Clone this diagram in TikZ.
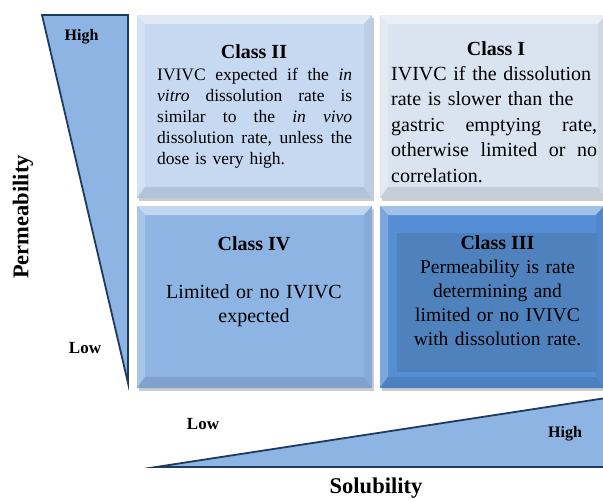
\documentclass[tikz,border=0pt]{standalone}
\usepackage{fontspec}
\setmainfont{Liberation Serif}
\definecolor{cII}{HTML}{C6D9F1}
\definecolor{cI}{HTML}{DAE4F0}
\definecolor{cIV}{HTML}{8EB4E3}
\definecolor{cIII}{HTML}{558ED5}
\definecolor{cIIIin}{HTML}{4F81BD}
\definecolor{trifill}{HTML}{8EB4E3}
\definecolor{navy}{HTML}{1F3A60}
\newcommand\bevbox[6]{%
  \fill[black!20] (#2+1.5,#3+3) rectangle (#4+1.5,#5+3);
  \fill[#6] (#2,#3) rectangle (#4,#5);
  \fill[#6!55!white] (#2,#3) -- (#4,#3) -- (#4-8,#3+9) -- (#2+8,#3+9) -- cycle;
  \fill[#6!78!white] (#2,#3) -- (#2+8,#3+9) -- (#2+8,#5-11) -- (#2,#5) -- cycle;
  \fill[#6!90!black] (#2,#5) -- (#2+8,#5-11) -- (#4-8,#5-11) -- (#4,#5) -- cycle;
  \fill[#6!95!black] (#4,#3) -- (#4-8,#3+9) -- (#4-8,#5-11) -- (#4,#5) -- cycle;
  \coordinate (#1-nw) at (#2,#3);
  \coordinate (#1-se) at (#4,#5);
}
\newcommand\jline[1]{\leavevmode\hbox to\linewidth{#1}}
\tikzset{
  title/.style={font=\bfseries\fontsize{20}{24}\selectfont, inner sep=0, anchor=base},
  body/.style={inner sep=0, anchor=base},
  axis/.style={font=\bfseries\fontsize{22.5}{26}\selectfont, inner sep=0},
  lvl/.style={font=\bfseries\fontsize{16}{19}\selectfont, inner sep=0},
  wedge/.style={draw=navy, line width=1.8pt, fill=trifill, line join=miter, miter limit=30}
}
\begin{document}
\begin{tikzpicture}[x=1pt,y=-1pt]
\useasboundingbox (0,0) rectangle (603,501);
\begin{scope}
\clip (0,0) rectangle (603,501);
% boxes
\bevbox{bII}{137}{15}{372}{198}{cII}
\bevbox{bI}{380}{15}{606}{198}{cI}
\bevbox{bIV}{137}{206}{372}{388}{cIV}
\bevbox{bIII}{380}{206}{604}{388}{cIII}
\fill[cIIIin] (397,233) rectangle (597,372);
% wedges
\draw[wedge] (42,15) -- (128,15) -- (128,383) -- cycle;
\draw[wedge] (156,467) -- (606,398) -- (606,467) -- cycle;
\end{scope}
% titles
\node[title] (tII) at (254,58) {Class II};
\node[title] (tI) at (496,55) {Class I};
\node[title] (tIV) at (254,250) {Class IV};
\node[title] (tIII) at (497.5,249) {Class III};
% Class II text
\node[body, anchor=base west, text width=195pt, align=left,
      font=\fontsize{17.5}{21}\selectfont] (xII) at (157,80)
 {\jline{IVIVC\hfill expected\hfill if\hfill the\hfill \textit{in}}\\
  \jline{\textit{vitro}\hfill dissolution\hfill rate\hfill is}\\
  \jline{similar\hfill to\hfill the\hfill \textit{in}\hfill \textit{vivo}}\\
  \jline{dissolution\hfill rate,\hfill unless\hfill the}\\
  dose is very high.};
% Class I text
\node[body, anchor=base west, text width=206pt, align=left,
      font=\fontsize{20}{25.5}\selectfont] (xI) at (391,80)
 {IVIVC if the dissolution\\
  rate is slower than the\\
  \jline{gastric\hfill emptying\hfill rate,}\\
  \jline{otherwise\hfill limited\hfill or\hfill no}\\
  correlation.};
% Class IV text
\node[body, text width=220pt, align=center,
      font=\fontsize{20}{24}\selectfont] (xIV) at (254,298)
 {Limited or no IVIVC\\ expected};
% Class III text
\node[body, text width=220pt, align=center,
      font=\fontsize{19.5}{24}\selectfont] (xIII) at (497.5,273)
 {Permeability is rate\\ determining and\\ limited or no IVIVC\\ with dissolution rate.};
% axis labels
\node[axis, rotate=90] (perm) at (23,217) {Permeability};
\node[axis, anchor=base] (sol) at (376,493) {Solubility};
\node[lvl] (phigh) at (81.5,37) {High};
\node[lvl, font=\bfseries\fontsize{17}{20}\selectfont] (plow) at (85,348) {Low};
\node[lvl, font=\bfseries\fontsize{17}{20}\selectfont] (slow) at (203,424) {Low};
\node[lvl] (shigh) at (565,434) {High};
\end{tikzpicture}
\end{document}
